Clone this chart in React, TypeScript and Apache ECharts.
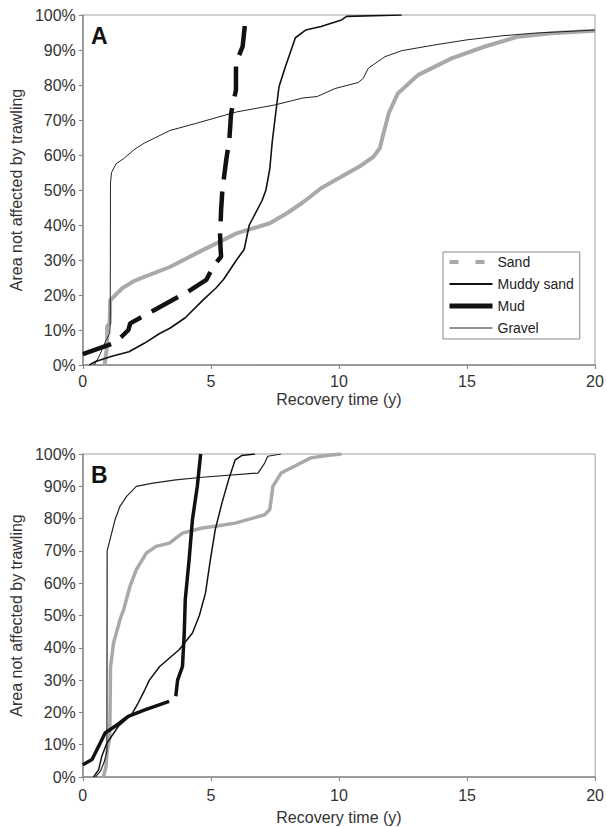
import React, { useEffect, useRef } from "react";
import * as echarts from "echarts";

// ---- Data (recovery time in years, % area not affected) ----
const seriesNames = ["Sand", "Muddy sand", "Mud", "Gravel"];
const xTickValues = [0, 5, 10, 15, 20];
const yTickValues = [0, 10, 20, 30, 40, 50, 60, 70, 80, 90, 100];

// Panel A
const sandA = [
  [0.85, 0], [0.92, 4], [0.95, 6], [0.95, 11], [1.05, 12], [1.07, 18.5], [1.25, 19.8], [1.55, 22],
  [2.0, 24], [2.4, 25.2], [3.4, 28], [4.7, 32.9], [6.0, 37.6], [7.3, 40.5], [8.0, 43.5], [8.6, 46.5],
  [9.3, 50.5], [9.9, 53], [10.8, 56.7], [11.35, 59.5], [11.6, 62], [11.7, 65], [11.95, 72], [12.3, 77.6],
  [13.1, 82.9], [14.4, 87.6], [15.7, 91], [17.0, 93.8], [18.3, 94.8], [20, 95.5],
];
const muddySandA = [
  [0.25, 0], [0.5, 1], [1.1, 2.4], [1.8, 3.8], [2.4, 6.2], [3, 9], [3.4, 10.5], [4, 13.5], [4.7, 18.6],
  [5.2, 22], [5.5, 24.5], [6, 30], [6.3, 33], [6.5, 40], [7, 47], [7.15, 50], [7.3, 56], [7.4, 64],
  [7.55, 73], [7.66, 79.5], [7.9, 85], [8.3, 93.5], [8.7, 95.7], [9.3, 96.7], [10.1, 98.6], [10.3, 99.6],
  [12.45, 100],
];
const mudA = [
  [0, 3.1], [1.2, 6.2], [1.5, 8], [1.78, 10], [1.85, 11.9], [2.5, 14.5], [4.2, 21.4], [4.82, 24.3],
  [5.08, 28], [5.4, 31], [5.38, 33], [5.36, 37], [5.4, 44.3], [5.45, 50], [5.6, 58.6], [5.72, 64.3],
  [5.79, 71.9], [5.98, 78.6], [5.98, 86.2], [6.24, 91], [6.37, 100],
];
const gravelA = [
  [0.45, 0], [0.6, 2], [0.75, 4.3], [0.9, 7], [1.05, 9], [1.07, 12], [1.08, 52], [1.12, 55], [1.3, 57.5],
  [1.6, 59], [2.0, 61.5], [2.4, 63.4], [3.4, 67], [4.4, 69], [6.0, 72.3], [7.5, 74.3], [8.6, 76.3],
  [9.15, 76.7], [9.85, 79], [10.75, 80.7], [10.95, 81.9], [11.15, 84.8], [11.8, 88.1], [12.45, 89.8],
  [13.7, 91.4], [15.0, 92.9], [16.3, 94], [17.6, 94.8], [20, 95.7],
];

// Panel B
const sandB = [
  [0.8, 0], [0.9, 3], [0.95, 8], [1.05, 12], [1.07, 25], [1.08, 34], [1.2, 41.5], [1.45, 48.7], [1.6, 52],
  [1.84, 59], [2.09, 64.2], [2.48, 69.3], [2.86, 71.4], [3.38, 72.4], [3.89, 75.5], [4.66, 77.1],
  [5.3, 77.8], [5.95, 78.6], [7.1, 81.2], [7.3, 82.8], [7.42, 90], [7.74, 94.1], [8.26, 96.2],
  [8.9, 98.8], [9.6, 99.6], [10.1, 100],
];
const muddySandB = [
  [0.42, 0], [0.62, 2.3], [0.74, 6.4], [0.94, 10.5], [1.39, 15.7], [1.9, 19.3], [2.16, 22.9], [2.42, 27],
  [2.6, 30], [3.0, 34.2], [3.76, 39.4], [4.28, 44.6], [4.55, 50], [4.79, 57], [4.98, 67.3], [5.17, 76.6],
  [5.43, 84.8], [5.69, 92], [5.95, 98.2], [6.2, 99.5], [6.72, 100],
];
const mudB = [
  [0, 3.8], [0.36, 5.4], [0.68, 10.5], [0.87, 13.6], [1.26, 15.7], [1.77, 18.8], [2.42, 20.8], [3.37, 23.4],
  [3.5, null],
  [3.63, 25], [3.7, 30], [3.89, 34.2], [3.96, 44.6], [4.0, 55], [4.15, 67.3], [4.28, 79.7], [4.47, 90],
  [4.6, 100],
];
const gravelB = [
  [0.5, 0], [0.7, 2], [0.85, 5], [0.94, 8], [0.95, 70], [1.06, 73.5], [1.26, 79.7], [1.45, 83.8],
  [1.71, 86.9], [2.09, 90], [2.74, 91], [3.63, 92], [4.66, 92.8], [6.84, 94.1], [7.1, 97.2], [7.22, 99.3],
  [7.74, 100],
];

const FONT = "'Liberation Sans', Arial, Helvetica, sans-serif";
const TEXT = "#333";
const AXIS = "#8a8a8a";
const GRAY = "#a9a9a9";
const BLACK = "#111";
const HIDDEN_SYMBOL = { color: "rgba(0,0,0,0)", borderColor: "rgba(0,0,0,0)", borderWidth: 0, opacity: 0 };

function makeXAxis(gridIndex: number, labelMargin: number, nameGap: number) {
  return {
    type: "value",
    gridIndex,
    min: xTickValues[0],
    max: xTickValues[xTickValues.length - 1],
    interval: xTickValues[1] - xTickValues[0],
    axisLine: { show: true, lineStyle: { color: AXIS, width: 1.5 } },
    axisTick: { show: true, length: 4, lineStyle: { color: AXIS, width: 1.2 } },
    splitLine: { show: false },
    axisLabel: { fontSize: 16, color: TEXT, margin: labelMargin, fontFamily: FONT },
    name: "Recovery time (y)",
    nameLocation: "middle",
    nameGap,
    nameTextStyle: { fontSize: 16, color: TEXT, fontFamily: FONT },
  };
}

function makeYAxis(gridIndex: number) {
  return {
    type: "value",
    gridIndex,
    min: yTickValues[0],
    max: yTickValues[yTickValues.length - 1],
    interval: yTickValues[1] - yTickValues[0],
    axisLine: { show: true, lineStyle: { color: AXIS, width: 1.5 } },
    axisTick: { show: true, length: 4, lineStyle: { color: AXIS, width: 1.2 } },
    splitLine: { show: false },
    axisLabel: { fontSize: 16, color: TEXT, margin: 7, formatter: "{value}%", fontFamily: FONT },
    name: "Area not affected by trawling",
    nameLocation: "middle",
    nameGap: 54,
    nameTextStyle: { fontSize: 16, color: TEXT, fontFamily: FONT },
  };
}

function line(name: string, data: any[], idx: number, lineStyle: any, z: number) {
  return {
    type: "line",
    name,
    data,
    xAxisIndex: idx,
    yAxisIndex: idx,
    symbol: "none",
    showSymbol: false,
    connectNulls: false,
    silent: true,
    itemStyle: { color: lineStyle.color },
    lineStyle,
    z,
  };
}

export default function App() {
  const ref = useRef<HTMLDivElement>(null);
  useEffect(() => {
    if (!ref.current) return;
    const chart = echarts.init(ref.current, null, { renderer: "svg" });
    const option: any = {
      animation: false,
      backgroundColor: "#fff",
      textStyle: { fontFamily: FONT },
      grid: [
        { left: 79, top: 15, width: 516, height: 350, show: true, borderColor: "#a0a0a0", borderWidth: 1 },
        { left: 79, top: 454, width: 519, height: 323, show: true, borderColor: "#a0a0a0", borderWidth: 1 },
      ],
      xAxis: [makeXAxis(0, 8, 26), makeXAxis(1, 10, 32)],
      yAxis: [makeYAxis(0), makeYAxis(1)],
      legend: {
        show: true,
        orient: "vertical",
        left: 443,
        top: 252,
        padding: [3, 6, 4, 4],
        itemWidth: 43,
        itemHeight: 14,
        itemGap: 8,
        selectedMode: false,
        borderColor: "#888",
        borderWidth: 1,
        backgroundColor: "#fff",
        textStyle: { fontSize: 14, color: "#222", fontFamily: FONT },
        data: [
          { name: seriesNames[0], itemStyle: HIDDEN_SYMBOL, lineStyle: { color: GRAY, width: 4, type: [9, 17] } },
          { name: seriesNames[1], itemStyle: HIDDEN_SYMBOL, lineStyle: { color: BLACK, width: 2, type: "solid" } },
          { name: seriesNames[2], itemStyle: HIDDEN_SYMBOL, lineStyle: { color: BLACK, width: 5, type: "solid" } },
          { name: seriesNames[3], itemStyle: HIDDEN_SYMBOL, lineStyle: { color: "#222", width: 1, type: "solid" } },
        ],
      },
      graphic: [
        { type: "text", left: 91, top: 24, style: { text: "A", font: `bold 23px ${FONT}`, fill: "#111" } },
        { type: "text", left: 91, top: 463, style: { text: "B", font: `bold 23px ${FONT}`, fill: "#111" } },
      ],
      series: [
        line(seriesNames[0], sandA, 0, { color: GRAY, width: 4 }, 2),
        line(seriesNames[3], gravelA, 0, { color: "#222", width: 1 }, 3),
        line(seriesNames[1], muddySandA, 0, { color: BLACK, width: 1.6 }, 4),
        line(seriesNames[2], mudA, 0, { color: BLACK, width: 4.5, type: [30, 12] }, 5),
        line(seriesNames[0], sandB, 1, { color: GRAY, width: 3.5 }, 2),
        line(seriesNames[3], gravelB, 1, { color: "#222", width: 1.2 }, 3),
        line(seriesNames[1], muddySandB, 1, { color: BLACK, width: 1.5 }, 4),
        line(seriesNames[2], mudB, 1, { color: BLACK, width: 3.5 }, 5),
      ],
    };
    chart.setOption(option);
    return () => chart.dispose();
  }, []);
  return (
    <div
      ref={ref}
      style={{ position: "fixed", left: 0, top: 0, width: 607, height: 827, background: "#fff" }}
    />
  );
}
